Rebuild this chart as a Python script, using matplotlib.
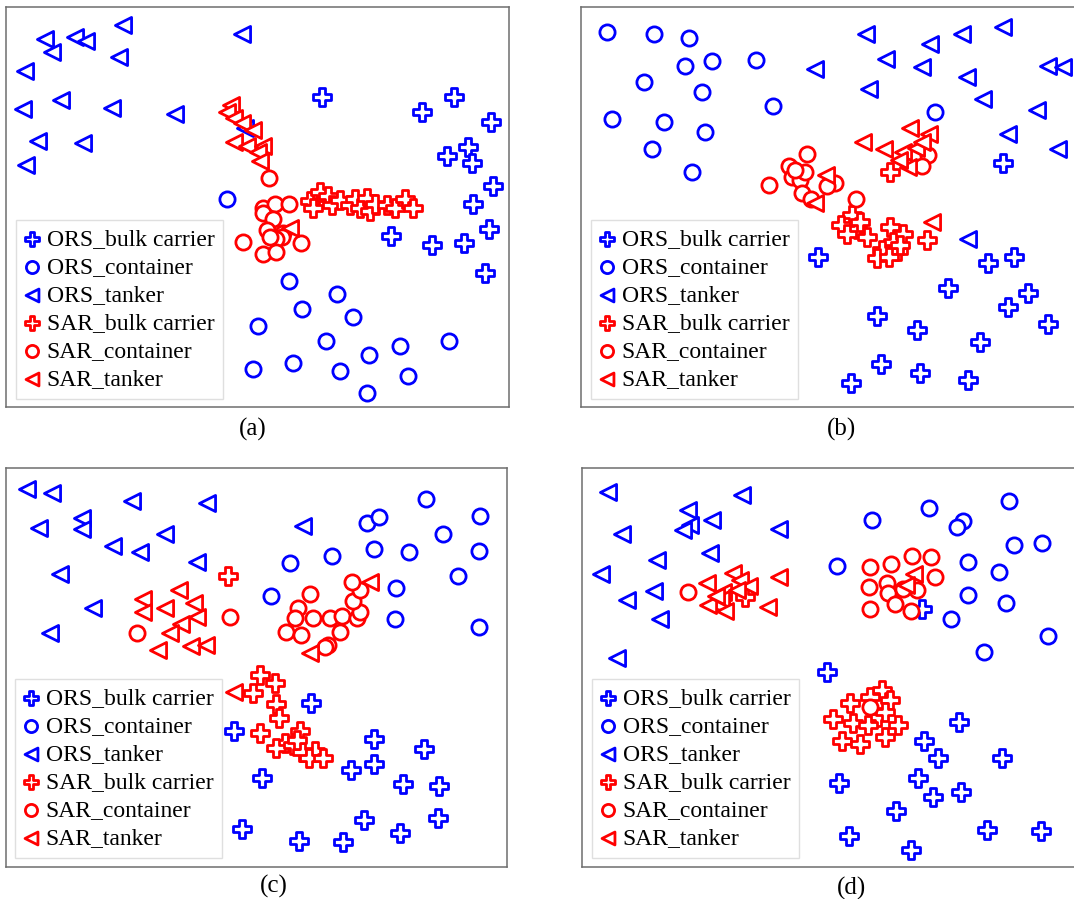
import matplotlib
matplotlib.use("Agg")
import matplotlib.pyplot as plt
import numpy as np

# ---------------- data (positions, image-pixel units) -------------
SERIES = ["ORS_bulk carrier", "ORS_container", "ORS_tanker",
          "SAR_bulk carrier", "SAR_container", "SAR_tanker"]
PANEL_LABELS = ["(a)", "(b)", "(c)", "(d)"]

# panel (a)
a_ors_bulk = [(322, 97), (454, 97), (422, 112), (491, 122), (468, 147), (447, 156), (472, 163),
              (493, 186), (473, 204), (489, 229), (391, 236), (432, 245), (464, 243), (485, 273)]
a_ors_cont = [(227, 199), (289, 281), (337, 294), (302, 309), (353, 317), (258, 326), (326, 341),
              (449, 341), (400, 346), (369, 355), (253, 369), (293, 363), (340, 371), (408, 376),
              (367, 393)]
a_ors_tank = [(123, 25), (242, 34), (45, 39), (75, 37), (86, 41), (52, 52), (119, 57), (25, 71),
              (61, 100), (23, 109), (112, 108), (175, 114), (38, 141), (83, 143), (26, 165),
              (245, 128)]
a_sar_bulk = [(310, 201), (313, 208), (320, 192), (328, 196), (332, 205), (340, 200), (350, 205),
              (355, 199), (360, 208), (367, 198), (370, 211), (375, 204), (387, 205), (395, 208),
              (405, 199), (413, 208)]
a_sar_cont = [(269, 178), (263, 208), (275, 204), (289, 204), (263, 213), (273, 219), (267, 230),
              (283, 233), (282, 237), (276, 239), (243, 242), (301, 243), (263, 254), (276, 252),
              (270, 237)]
a_sar_tank = [(231, 105), (227, 112), (234, 118), (242, 123), (253, 130), (234, 142), (247, 146),
              (263, 146), (258, 152), (260, 161), (290, 228)]

# panel (b)
b_ors_bulk = [(1003, 163), (818, 257), (988, 263), (1014, 257), (948, 288), (1028, 293),
              (1008, 307), (877, 316), (917, 330), (1048, 324), (980, 342), (881, 364), (920, 373),
              (968, 380), (851, 383)]
b_ors_cont = [(607, 32), (654, 34), (689, 38), (685, 66), (712, 61), (756, 60), (644, 82), (702, 92),
              (773, 106), (612, 119), (664, 122), (705, 132), (652, 149), (692, 172), (935, 112)]
b_ors_tank = [(866, 34), (930, 44), (962, 34), (1003, 27), (815, 69), (886, 59), (922, 67), (967, 77),
              (1048, 66), (1063, 67), (869, 89), (983, 99), (1037, 110), (1008, 134), (1058, 149),
              (968, 239)]
b_sar_bulk = [(852, 215), (841, 225), (857, 229), (847, 234), (867, 237), (890, 227), (903, 234),
              (893, 242), (882, 250), (898, 251), (877, 258), (889, 257), (927, 240), (890, 172),
              (900, 245), (860, 222)]
b_sar_cont = [(807, 154), (769, 185), (789, 166), (792, 177), (800, 180), (805, 172), (802, 193),
              (811, 199), (835, 183), (827, 186), (856, 199), (928, 155), (922, 166), (795, 170)]
b_sar_tank = [(863, 142), (884, 149), (910, 128), (929, 134), (903, 152), (916, 148), (908, 167),
              (922, 142), (826, 175), (815, 203), (932, 222), (899, 160)]

# panel (c)
c_ors_bulk = [(311, 703), (234, 731), (374, 739), (424, 749), (374, 764), (351, 770), (262, 778),
              (403, 784), (439, 786), (364, 820), (438, 818), (242, 829), (400, 833), (299, 841),
              (343, 842)]
c_ors_cont = [(426, 499), (480, 516), (367, 523), (379, 517), (443, 534), (479, 551), (332, 556),
              (374, 549), (409, 552), (290, 563), (458, 576), (396, 588), (271, 596), (395, 619),
              (479, 627)]
c_ors_tank = [(27, 489), (52, 493), (132, 501), (207, 503), (39, 528), (82, 518), (82, 529),
              (165, 534), (113, 546), (140, 552), (197, 562), (303, 526), (60, 574), (93, 608),
              (50, 633)]
c_sar_bulk = [(228, 576), (260, 675), (275, 683), (253, 693), (276, 704), (279, 718), (260, 733),
              (300, 731), (285, 743), (276, 748), (293, 745), (302, 752), (315, 751), (309, 758),
              (323, 758), (297, 740)]
c_sar_cont = [(137, 633), (230, 617), (310, 594), (298, 608), (295, 618), (313, 618), (330, 618),
              (342, 616), (357, 618), (360, 612), (353, 601), (360, 590), (352, 582), (286, 632),
              (301, 635), (340, 632), (328, 645), (325, 647)]
c_sar_tank = [(143, 599), (143, 612), (165, 608), (179, 590), (194, 603), (197, 617), (181, 624),
              (170, 633), (191, 646), (206, 645), (158, 650), (310, 653), (370, 582), (234, 692)]

# panel (d)
d_ors_bulk = [(922, 609), (827, 672), (959, 722), (924, 741), (938, 758), (1002, 758), (918, 778),
              (839, 783), (961, 792), (933, 797), (896, 811), (987, 830), (1041, 831), (849, 836),
              (911, 850)]
d_ors_cont = [(872, 520), (929, 508), (1009, 501), (963, 521), (957, 527), (1014, 545), (1042, 543),
              (837, 566), (968, 562), (999, 572), (968, 595), (1006, 603), (951, 619), (1048, 636),
              (984, 652)]
d_ors_tank = [(608, 492), (742, 495), (688, 510), (712, 520), (690, 525), (683, 530), (622, 534),
              (779, 529), (710, 553), (657, 560), (601, 574), (654, 591), (627, 600), (660, 619),
              (617, 658)]
d_sar_bulk = [(745, 597), (882, 690), (870, 697), (890, 700), (850, 703), (878, 717), (833, 719),
              (853, 723), (868, 725), (898, 725), (885, 737), (842, 741), (860, 744), (885, 712)]
d_sar_cont = [(688, 592), (720, 602), (870, 567), (891, 564), (912, 556), (931, 557), (869, 587),
              (887, 583), (888, 593), (903, 589), (917, 590), (935, 577), (870, 609), (895, 604),
              (911, 611), (870, 707)]
d_sar_tank = [(707, 583), (733, 573), (740, 580), (749, 586), (779, 577), (723, 592), (737, 590),
              (708, 605), (721, 599), (725, 611), (768, 607), (914, 574), (906, 585), (716, 596)]

PANEL_DATA = [
    [a_ors_bulk, a_ors_cont, a_ors_tank, a_sar_bulk, a_sar_cont, a_sar_tank],
    [b_ors_bulk, b_ors_cont, b_ors_tank, b_sar_bulk, b_sar_cont, b_sar_tank],
    [c_ors_bulk, c_ors_cont, c_ors_tank, c_sar_bulk, c_sar_cont, c_sar_tank],
    [d_ors_bulk, d_ors_cont, d_ors_tank, d_sar_bulk, d_sar_cont, d_sar_tank],
]

# ---------------- layout / style ----------------
W, H, DPI = 1074, 899, 100
BOXES = [(6, 7, 509, 407), (581, 7, 1090, 407), (6, 468, 507, 867), (582, 468, 1090, 867)]
LEGEND_LL = [(16, 399), (591, 399), (15, 858), (592, 858)]
LABEL_POS = [(253, 429), (842, 429), (274, 886), (852, 888)]
MARKERS = ["P", "o", "<", "P", "o", "<"]
COLORS = ["#0000ff", "#0000ff", "#0000ff", "#ff0000", "#ff0000", "#ff0000"]
SIZES = {"P": 150, "o": 120, "<": 135}

fig = plt.figure(figsize=(W / DPI, H / DPI), dpi=DPI)
fig.patch.set_facecolor("white")

for k, (x0, y0, x1, y1) in enumerate(BOXES):
    ax = fig.add_axes([x0 / W, 1 - y1 / H, (x1 - x0) / W, (y1 - y0) / H])
    ax.set_xlim(x0, x1)
    ax.set_ylim(y1, y0)
    ax.set_xticks([])
    ax.set_yticks([])
    for s in ax.spines.values():
        s.set_color("#6e6e6e")
        s.set_linewidth(1.1)
    if x1 > W:
        ax.spines["right"].set_visible(False)
    handles = []
    for i, pts in enumerate(PANEL_DATA[k]):
        arr = np.array(pts, dtype=float)
        h = ax.scatter(arr[:, 0], arr[:, 1], marker=MARKERS[i], s=SIZES[MARKERS[i]],
                       facecolors="white", edgecolors=COLORS[i], linewidths=2.0,
                       label=SERIES[i], zorder=2 + i)
        handles.append(h)
    lx, ly = LEGEND_LL[k]
    leg = ax.legend(handles=handles, loc="lower left",
                    bbox_to_anchor=((lx - x0) / (x1 - x0), (y1 - ly) / (y1 - y0)),
                    borderaxespad=0, frameon=True, fancybox=False, markerscale=0.8,
                    handlelength=0.62, handletextpad=0.32, borderpad=0.36, labelspacing=0.28,
                    prop={"family": "Liberation Serif", "size": 17})
    leg.get_frame().set_edgecolor("#d8d8d8")
    leg.get_frame().set_linewidth(1.0)
    leg.set_zorder(20)
    lx2, ly2 = LABEL_POS[k]
    fig.text(lx2 / W, 1 - ly2 / H, PANEL_LABELS[k], ha="center", va="center",
             family="Liberation Serif", fontsize=18)

fig.savefig("out.png", dpi=DPI, facecolor="white")
